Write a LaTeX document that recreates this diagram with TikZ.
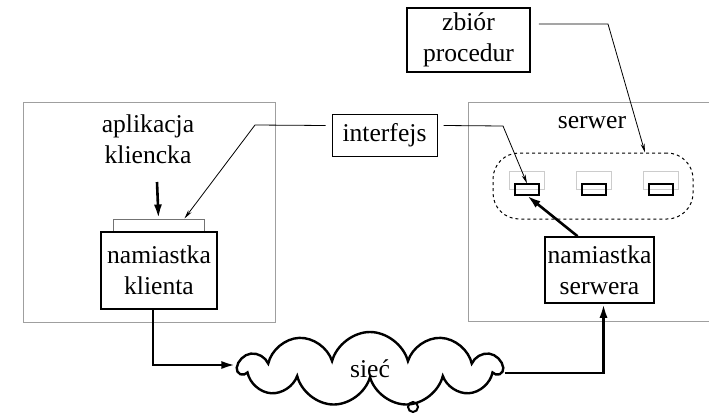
\documentclass[tikz,border=0pt]{standalone}
\usepackage{fontspec}
\setmainfont{Liberation Serif}
\usetikzlibrary{arrows.meta,shapes.symbols}

\begin{document}
\begin{tikzpicture}[x=1pt,y=-1pt,
  font=\fontsize{25.6}{31}\selectfont,
  frame/.style={draw=gray!75,line width=1pt},
  box/.style={draw,line width=1.6pt,inner sep=0pt,align=center},
  label/.style={align=center,inner sep=0pt},
  callout/.style={line width=0.8pt,-{Stealth[length=9pt,width=4pt]}},
  bigarrow/.style={line width=2.6pt,-{Latex[length=14pt,width=8pt]}}]
\useasboundingbox (0,0) rectangle (709,417);

\draw[frame] (23,103) rectangle (275,322);
\draw[frame] (709,103) -| (468,321) -- (709,321);

\node[label] (app) at (148,139) {aplikacja\\kliencka};
\node[label] (srvname) at (592,123) {serwer};

\node[box,minimum width=123pt,minimum height=64pt] (procs) at (468.5,40) {zbiór\\procedur};
\node[box,line width=1pt,minimum width=105pt,minimum height=41pt] (intf) at (384.5,135.5) {interfejs};
\node[box,draw=gray!90!black,line width=1pt,minimum width=91pt,minimum height=13pt] (strip) at (158.5,225.5) {};
\node[box,minimum width=116pt,minimum height=77pt] (clstub) at (159,270.5) {namiastka\\klienta};
\node[box,minimum width=109pt,minimum height=66pt] (srvstub) at (599.5,270) {namiastka\\serwera};

\node[draw,dashed,line width=1pt,rounded corners=26pt,minimum width=200pt,minimum height=66pt] (set) at (593,186) {};
\foreach \x/\n in {527/1,594/2,661/3}{
  \node[draw=gray!40,line width=1pt,minimum width=35pt,minimum height=18pt,inner sep=0pt] (slot\n) at (\x,180) {};
  \node[draw,line width=1.2pt,minimum width=24pt,minimum height=11pt,inner sep=0pt] (sub\n) at (\x,189.5) {};
}

\node[cloud,draw,line width=2.4pt,cloud puffs=11,aspect=3.3,minimum width=262pt,minimum height=74pt,inner sep=0pt] (net) at (370,369) {sieć};
\node[circle,draw,line width=2pt,minimum size=10pt,inner sep=0pt] (knot) at (413,407) {};

\coordinate (appin) at (157,182);
\draw[bigarrow] (appin) -- (strip.north);

\draw[callout] ([xshift=-6pt,yshift=10pt]intf.west) -- (255,125) -- ([xshift=26pt]strip.north);
\draw[callout] ([xshift=6pt,yshift=10pt]intf.east) -- (503,126) -- (sub1.north);
\draw[callout] ([xshift=8pt,yshift=16pt]procs.east) -- (608,24) -- ([xshift=52pt]set.north);

\draw[bigarrow] ([xshift=-22pt]srvstub.north) -- (sub1.south);
\draw[bigarrow] ([xshift=-6pt]clstub.south) |- ([yshift=4pt]net.west);
\draw[bigarrow] ([yshift=-4pt]net.east) -| ([xshift=4pt]srvstub.south);
\end{tikzpicture}
\end{document}
